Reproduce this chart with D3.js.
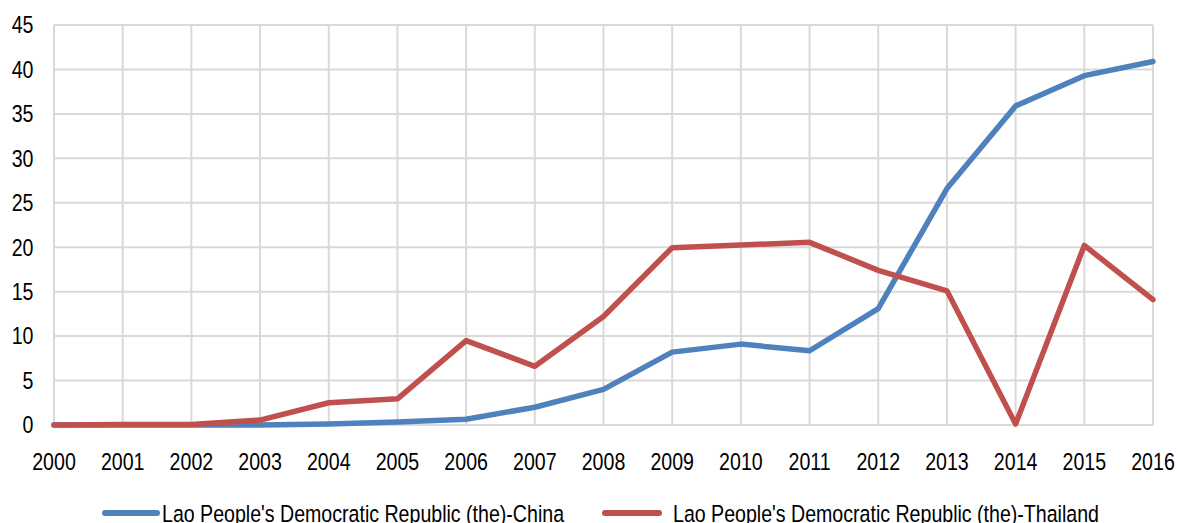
<!DOCTYPE html>
<html>
<head>
<meta charset="utf-8">
<script src="https://d3js.org/d3.v7.min.js"></script>
<style>
  html, body { margin: 0; padding: 0; background: #fff; }
  svg { display: block; font-family: "Liberation Sans", Arial, sans-serif; }
</style>
</head>
<body>
<svg id="chart" width="1178" height="523"></svg>
<script>
// Years on the x axis
const years = [2000, 2001, 2002, 2003, 2004, 2005, 2006, 2007, 2008,
               2009, 2010, 2011, 2012, 2013, 2014, 2015, 2016];

// Series values
const chinaValues = [0, 0, 0, 0, 0.1, 0.35, 0.65, 2.0, 4.0,
                     8.2, 9.1, 8.35, 13.1, 26.6, 35.9, 39.3, 40.9];
const thailandValues = [0, 0.05, 0.05, 0.55, 2.5, 2.95, 9.5, 6.6, 12.2,
                        19.95, 20.25, 20.55, 17.4, 15.1, 0.1, 20.2, 14.1];

const seriesNames = ["Lao People's Democratic Republic (the)-China",
                     "Lao People's Democratic Republic (the)-Thailand"];
const seriesColors = ["#4f81bd", "#c0504d"];

// Y axis ticks
const yTicks = [0, 5, 10, 15, 20, 25, 30, 35, 40, 45];

const svg = d3.select("#chart");
const plot = { left: 54, right: 1153, top: 25, bottom: 425 };

const x = d3.scalePoint().domain(years).range([plot.left, plot.right]);
const y = d3.scaleLinear().domain([0, 45]).range([plot.bottom, plot.top]);

// Text is drawn slightly stretched (taller than wide)
const FONT = 19.6, SX = 1.0, SY = 1.2;
function stretchedText(g, tx, ty, anchor, str) {
  return g.append("text")
    .attr("transform", `translate(${tx},${ty}) scale(${SX},${SY})`)
    .attr("text-anchor", anchor)
    .attr("font-size", FONT)
    .attr("fill", "#000")
    .text(str);
}

// Gridlines
const grid = svg.append("g");
grid.selectAll("line.h").data(yTicks).enter().append("line")
  .attr("x1", plot.left).attr("x2", plot.right)
  .attr("y1", d => y(d)).attr("y2", d => y(d))
  .attr("stroke", "#d9d9d9").attr("stroke-width", 2);
grid.selectAll("line.v").data(years).enter().append("line")
  .attr("x1", d => x(d)).attr("x2", d => x(d))
  .attr("y1", plot.top).attr("y2", plot.bottom)
  .attr("stroke", "#d9d9d9").attr("stroke-width", 2);

// Y axis labels
const gy = svg.append("g");
yTicks.forEach(t => stretchedText(gy, 33.5, y(t) + 8.3, "end", t));

// X axis labels
const gx = svg.append("g");
years.forEach(yr => stretchedText(gx, x(yr), 470, "middle", yr));

// Lines
const line = d3.line().x((d, i) => x(years[i])).y(d => y(d));
[chinaValues, thailandValues].forEach((vals, i) => {
  svg.append("path")
    .datum(vals)
    .attr("d", line)
    .attr("fill", "none")
    .attr("stroke", seriesColors[i])
    .attr("stroke-width", 5.5)
    .attr("stroke-linejoin", "round")
    .attr("stroke-linecap", "round");
});

// Legend
const legendItems = [
  { x1: 105, x2: 157, tx: 162 },
  { x1: 605, x2: 659, tx: 673 }
];
const gl = svg.append("g");
legendItems.forEach((p, i) => {
  gl.append("line")
    .attr("x1", p.x1).attr("x2", p.x2).attr("y1", 513).attr("y2", 513)
    .attr("stroke", seriesColors[i]).attr("stroke-width", 6)
    .attr("stroke-linecap", "round");
  stretchedText(gl, p.tx, 522, "start", seriesNames[i]);
});
</script>
</body>
</html>
